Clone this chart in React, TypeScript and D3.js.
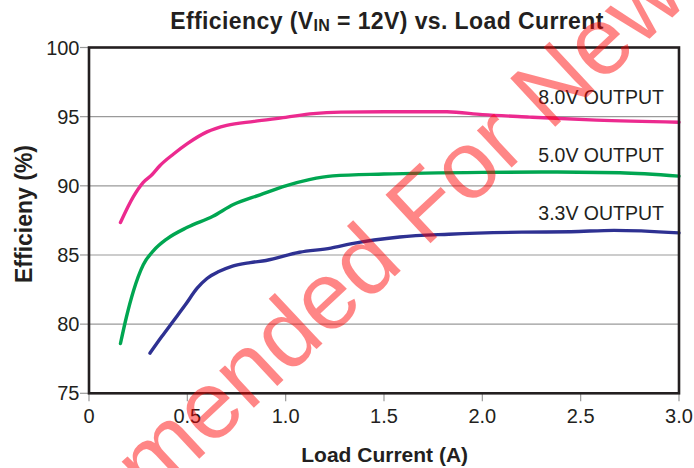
import React from "react";
import * as d3 from "d3";

// ---- Data ----
const xTickValues = [0, 0.5, 1.0, 1.5, 2.0, 2.5, 3.0];
const xTickLabels = ["0", "0.5", "1.0", "1.5", "2.0", "2.5", "3.0"];
const yTickValues = [75, 80, 85, 90, 95, 100];
const yTickLabels = ["75", "80", "85", "90", "95", "100"];

const seriesNames = ["8.0V OUTPUT", "5.0V OUTPUT", "3.3V OUTPUT"];

const out8V: [number, number][] = [
  [0.16, 87.35], [0.225, 89.2], [0.276, 90.25], [0.32, 90.8], [0.36, 91.45],
  [0.43, 92.3], [0.5, 93.05], [0.6, 93.9], [0.7, 94.37], [0.84, 94.66],
  [1.0, 94.95], [1.14, 95.22], [1.28, 95.33], [1.5, 95.36], [1.82, 95.35],
  [2.0, 95.15], [2.24, 94.97], [2.58, 94.75], [3.0, 94.6],
];
const out5V: [number, number][] = [
  [0.16, 78.6], [0.19, 80.5], [0.226, 82.4], [0.276, 84.3], [0.327, 85.3],
  [0.395, 86.15], [0.5, 87.0], [0.63, 87.8], [0.734, 88.65], [0.87, 89.35],
  [1.0, 90.0], [1.12, 90.45], [1.24, 90.72], [1.5, 90.85], [2.0, 90.97],
  [2.3, 91.0], [2.7, 90.95], [3.0, 90.7],
];
const out3V3: [number, number][] = [
  [0.31, 77.9], [0.37, 79.1], [0.43, 80.25], [0.49, 81.4], [0.55, 82.6],
  [0.6, 83.3], [0.66, 83.8], [0.73, 84.2], [0.82, 84.45], [0.9, 84.6],
  [1.07, 85.2], [1.23, 85.5], [1.33, 85.8], [1.58, 86.3], [1.83, 86.5],
  [2.2, 86.65], [2.45, 86.68], [2.67, 86.78], [3.0, 86.6],
];
const seriesData = [out8V, out5V, out3V3];
const seriesColors = ["#ec2a8f", "#00a651", "#2e3192"];
const labelValues = [95.9, 91.7, 87.5];

const W = 694;
const H = 468;
const plot = { left: 89, right: 679, top: 47.5, bottom: 393.3 };
const ink = "#231f20";

export default function App() {
  const x = d3.scaleLinear().domain([0, 3]).range([plot.left, plot.right]);
  const y = d3.scaleLinear().domain([75, 100]).range([plot.bottom, plot.top]);
  const line = d3
    .line<[number, number]>()
    .x((d) => x(d[0]))
    .y((d) => y(d[1]))
    .curve(d3.curveMonotoneX);

  const wmFont = 96;
  const wmOffset = 9.781 * wmFont;

  return (
    <svg
      width={W}
      height={H}
      viewBox={`0 0 ${W} ${H}`}
      style={{ position: "absolute", left: 0, top: 0, background: "#fff" }}
      fontFamily="'Liberation Sans', Arial, Helvetica, sans-serif"
    >
      <rect x={0} y={0} width={W} height={H} fill="#fff" />
      {/* gridlines */}
      {yTickValues.slice(1, -1).map((v) => (
        <line key={"g" + v} x1={plot.left} x2={plot.right} y1={y(v)} y2={y(v)} stroke="#9a9a9a" strokeWidth={1.2} />
      ))}
      {/* outward ticks */}
      {yTickValues.map((v) => (
        <line key={"yt" + v} x1={plot.left - 9} x2={plot.left} y1={y(v)} y2={y(v)} stroke="#9a9a9a" strokeWidth={1.2} />
      ))}
      {xTickValues.map((v) => (
        <line key={"xt" + v} x1={x(v)} x2={x(v)} y1={plot.bottom} y2={plot.bottom + 8} stroke="#9a9a9a" strokeWidth={1.2} />
      ))}
      {/* tick labels */}
      {yTickValues.map((v, i) => (
        <text key={"yl" + v} x={79.5} y={y(v) + 7} textAnchor="end" fontSize={20} fill={ink}>
          {yTickLabels[i]}
        </text>
      ))}
      {xTickValues.map((v, i) => (
        <text key={"xl" + v} x={x(v)} y={423} textAnchor="middle" fontSize={20} fill={ink}>
          {xTickLabels[i]}
        </text>
      ))}
      {/* series */}
      {seriesData.map((d, i) => (
        <path key={"s" + i} d={line(d) || ""} fill="none" stroke={seriesColors[i]} strokeWidth={3.4} strokeLinecap="round" strokeLinejoin="round" />
      ))}
      {seriesNames.map((n, i) => (
        <text key={"n" + i} x={664} y={y(labelValues[i])} textAnchor="end" fontSize={19.5} fill={ink}>
          {n}
        </text>
      ))}
      {/* frame */}
      <rect x={plot.left} y={plot.top} width={plot.right - plot.left} height={plot.bottom - plot.top} fill="none" stroke={ink} strokeWidth={2.6} />
      {/* title */}
      <text x={387} y={28.5} textAnchor="middle" fontSize={23} fontWeight="bold" fill={ink} letterSpacing={0.4}>
        Efficiency (V<tspan fontSize={16} dy={2.5}>IN</tspan>
        <tspan dy={-2.5}> = 12V) vs. Load Current</tspan>
      </text>
      {/* axis titles */}
      <text x={384.7} y={461.5} textAnchor="middle" fontSize={21} fontWeight="bold" fill={ink}>
        Load Current (A)
      </text>
      <text transform="translate(31.5,214) rotate(-90)" textAnchor="middle" fontSize={23} fontWeight="bold" fill={ink}>
        Efficieny (%)
      </text>
      {/* watermark */}
      <g transform="translate(470,172) rotate(-43)" opacity={0.47}>
        <text x={-wmOffset} y={0.26 * wmFont} fontSize={wmFont} fill="#ff0000">
          Not Recommended For New Designs
        </text>
      </g>
    </svg>
  );
}
